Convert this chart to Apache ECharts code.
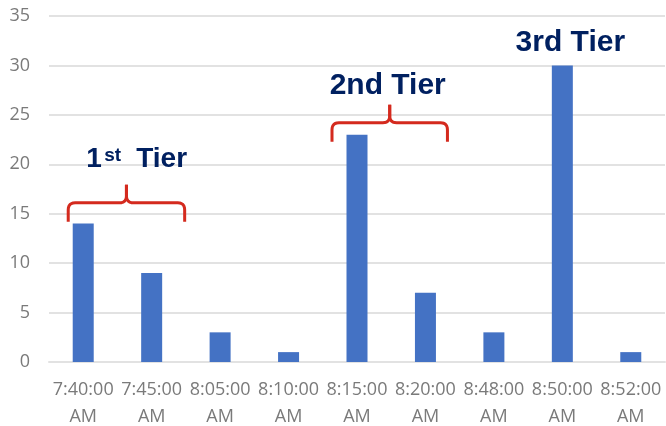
<!DOCTYPE html>
<html>
<head>
<meta charset="utf-8">
<script src="https://cdn.jsdelivr.net/npm/echarts@6/dist/echarts.min.js"></script>
<style>
  html, body { margin: 0; padding: 0; background: #fff; }
  #chart { width: 666px; height: 426px; }
</style>
</head>
<body>
<div id="chart"></div>
<script>
// Arrival times and counts per time slot
const times = ['7:40:00\nAM', '7:45:00\nAM', '8:05:00\nAM', '8:10:00\nAM', '8:15:00\nAM',
               '8:20:00\nAM', '8:48:00\nAM', '8:50:00\nAM', '8:52:00\nAM'];
const counts = [14, 9, 3, 1, 23, 7, 3, 30, 1];
const yTicks = [0, 5, 10, 15, 20, 25, 30, 35];

const chart = echarts.init(document.getElementById('chart'), null, { renderer: 'canvas' });

const labelFont = '"Open Sans", "Liberation Sans", sans-serif';
const gridLine = { color: '#e2e2e2', width: 2 };
chart.setOption({
  animation: false,
  backgroundColor: '#ffffff',
  grid: { left: 49, right: 1, top: 16, bottom: 64, containLabel: false, outerBoundsMode: 'none' },
  xAxis: {
    type: 'category',
    data: times,
    axisLine: { lineStyle: gridLine },
    axisTick: { show: false },
    axisLabel: {
      color: '#7a7a7a', fontFamily: labelFont, fontSize: 18, lineHeight: 27,
      margin: 14, interval: 0
    }
  },
  yAxis: {
    type: 'value',
    min: yTicks[0], max: yTicks[yTicks.length - 1], interval: 5,
    axisLine: { show: false },
    axisTick: { show: false },
    axisLabel: { color: '#7a7a7a', fontFamily: labelFont, fontSize: 18, margin: 19 },
    splitLine: { lineStyle: gridLine }
  },
  series: [{
    type: 'bar',
    data: counts,
    barWidth: 21,
    itemStyle: { color: '#4472C4' }
  }]
});

// Tier annotations: a red brace over each group and a navy caption
function xAt(i) { return chart.convertToPixel({ xAxisIndex: 0 }, i); }
function yAt(v) { return chart.convertToPixel({ yAxisIndex: 0 }, v); }

// Quarter curve sampled as a quadratic from p0 via control c to p1
function quad(p0, c, p1, out) {
  const n = 6;
  for (let k = 1; k <= n; k++) {
    const t = k / n, u = 1 - t;
    out.push([u * u * p0[0] + 2 * u * t * c[0] + t * t * p1[0],
              u * u * p0[1] + 2 * u * t * c[1] + t * t * p1[1]]);
  }
}

// Half of a brace: from an outer end, along the top, up into the centre stem
function braceHalf(xe, xm, y, drop, rise) {
  const r = 7, dir = xm > xe ? 1 : -1;
  const pts = [[xe, y + drop], [xe, y + r]];
  quad([xe, y + r], [xe, y], [xe + dir * r, y], pts);
  pts.push([xm - dir * r, y]);
  quad([xm - dir * r, y], [xm, y], [xm, y - r], pts);
  pts.push([xm, y - rise]);
  return pts;
}

function brace(x0, x1, y) {
  const xm = (x0 + x1) / 2;
  const style = { fill: null, stroke: '#D42A1E', lineWidth: 3, lineJoin: 'round' };
  return [
    { type: 'polyline', silent: true, shape: { points: braceHalf(x0, xm, y, 19, 18) }, style: style },
    { type: 'polyline', silent: true, shape: { points: braceHalf(x1, xm, y, 19, 18) }, style: style }
  ];
}

const navy = '#002060';
const capFont = '"Liberation Sans", Arial, sans-serif';

const b1y = yAt(16.1), b2y = yAt(24.2);
const b1 = { x0: xAt(0) - 15, x1: xAt(1) + 33 };
const b2 = { x0: xAt(4) - 25, x1: xAt(5) + 22 };

chart.setOption({
  graphic: [].concat(
    brace(b1.x0, b1.x1, b1y),
    brace(b2.x0, b2.x1, b2y),
    [
      {
        type: 'text', x: b1.x0 + 18, y: b1y - 44, silent: true,
        style: { text: '1', fill: navy, font: 'bold 28px ' + capFont, verticalAlign: 'middle' }
      },
      {
        type: 'text', x: b1.x0 + 36, y: b1y - 57, silent: true,
        style: { text: 'st', fill: navy, font: 'bold 19px ' + capFont, verticalAlign: 'top' }
      },
      {
        type: 'text', x: b1.x0 + 68, y: b1y - 44, silent: true,
        style: { text: 'Tier', fill: navy, font: 'bold 28px ' + capFont, verticalAlign: 'middle' }
      },
      {
        type: 'text', x: (b2.x0 + b2.x1) / 2 - 2, y: b2y - 37, silent: true,
        style: { text: '2nd Tier', fill: navy, font: 'bold 30px ' + capFont,
                 align: 'center', verticalAlign: 'middle' }
      },
      {
        type: 'text', x: xAt(7) + 8, y: yAt(30) - 23, silent: true,
        style: { text: '3rd Tier', fill: navy, font: 'bold 30px ' + capFont,
                 align: 'center', verticalAlign: 'middle' }
      }
    ]
  )
});
</script>
</body>
</html>
